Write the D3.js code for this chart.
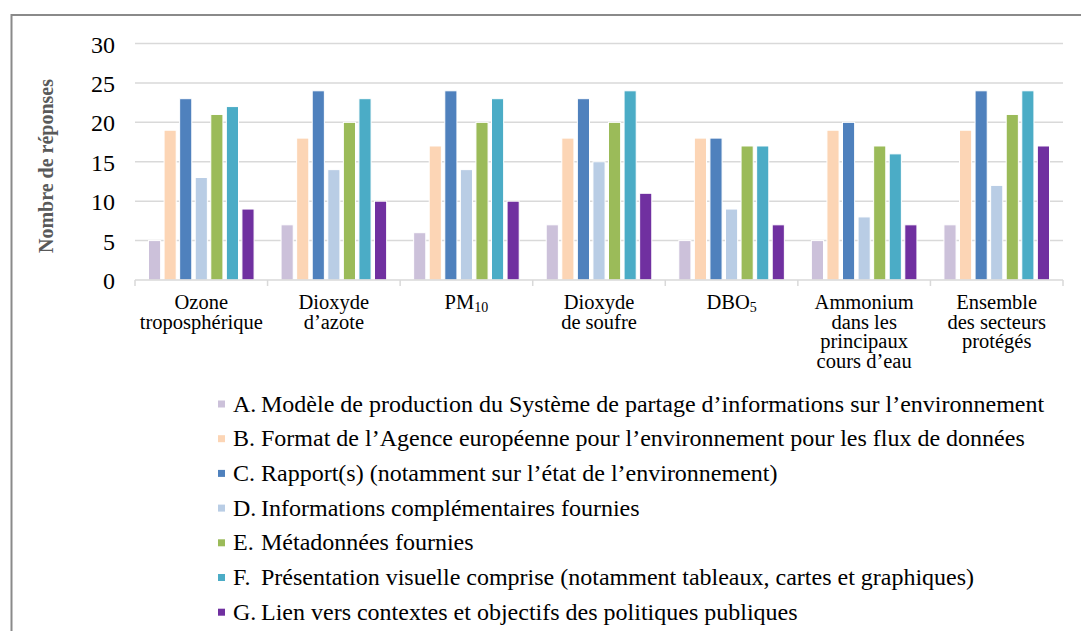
<!DOCTYPE html>
<html>
<head>
<meta charset="utf-8">
<script src="https://cdnjs.cloudflare.com/ajax/libs/d3/7.8.5/d3.min.js"></script>
<style>
  body { margin: 0; background: #fff; }
  text { font-family: "Liberation Serif", "Times New Roman", serif; }
</style>
</head>
<body>
<div id="chart"></div>
<script>
// categories (multi-line labels; second part of a line is a subscript)
var categories = [
  [["Ozone"], ["troposphérique"]],
  [["Dioxyde"], ["d’azote"]],
  [["PM", "10"]],
  [["Dioxyde"], ["de soufre"]],
  [["DBO", "5"]],
  [["Ammonium"], ["dans les"], ["principaux"], ["cours d’eau"]],
  [["Ensemble"], ["des secteurs"], ["protégés"]]
];

var seriesKeys = ["A.", "B.", "C.", "D.", "E.", "F.", "G."];
var seriesNames = [
  "Modèle de production du Système de partage d’informations sur l’environnement",
  "Format de l’Agence européenne pour l’environnement pour les flux de données",
  "Rapport(s) (notamment sur l’état de l’environnement)",
  "Informations complémentaires fournies",
  "Métadonnées fournies",
  "Présentation visuelle comprise (notamment tableaux, cartes et graphiques)",
  "Lien vers contextes et objectifs des politiques publiques"
];
var seriesColors = ["#ccc1da", "#fcd5b5", "#4f81bd", "#b9cde5", "#9bbb59", "#4bacc6", "#7030a0"];

// values per series, one per category
var valuesA = [5, 7, 6, 7, 5, 5, 7];
var valuesB = [19, 18, 17, 18, 18, 19, 19];
var valuesC = [23, 24, 24, 23, 18, 20, 24];
var valuesD = [13, 14, 14, 15, 9, 8, 12];
var valuesE = [21, 20, 20, 20, 17, 17, 21];
var valuesF = [22, 23, 23, 24, 17, 16, 24];
var valuesG = [9, 10, 10, 11, 7, 7, 17];
var seriesValues = [valuesA, valuesB, valuesC, valuesD, valuesE, valuesF, valuesG];

var yTicks = [0, 5, 10, 15, 20, 25, 30];

var svgWidth = 1081, svgHeight = 631;
var plot = { left: 135, right: 1063, top: 43.5, bottom: 280 };

var svg = d3.select("#chart").append("svg")
  .attr("width", svgWidth)
  .attr("height", svgHeight);

// outer frame
svg.append("rect")
  .attr("x", 11.5).attr("y", 15)
  .attr("width", 1100).attr("height", 700)
  .attr("fill", "none")
  .attr("stroke", "#8a8a8a")
  .attr("stroke-width", 2);

var x0 = d3.scaleBand()
  .domain(d3.range(categories.length))
  .range([plot.left, plot.right]);

var x1 = d3.scaleBand()
  .domain(d3.range(seriesKeys.length))
  .range([13.5, x0.bandwidth() - 13.5])
  .paddingInner(0.22);

var y = d3.scaleLinear()
  .domain([0, 30])
  .range([plot.bottom, plot.top]);

// gridlines
svg.append("g")
  .selectAll("line")
  .data(yTicks.filter(d => d > 0))
  .enter().append("line")
  .attr("x1", plot.left).attr("x2", plot.right)
  .attr("y1", d => y(d)).attr("y2", d => y(d))
  .attr("stroke", "#d9d9d9")
  .attr("stroke-width", 1.5);

// y tick labels
svg.append("g")
  .selectAll("text")
  .data(yTicks)
  .enter().append("text")
  .attr("x", 115)
  .attr("y", d => y(d) + 9)
  .attr("text-anchor", "end")
  .attr("font-size", "24px")
  .attr("fill", "#000")
  .text(d => d);

// bars
var groups = svg.append("g")
  .selectAll("g")
  .data(categories)
  .enter().append("g")
  .attr("transform", (d, i) => `translate(${x0(i)},0)`);

groups.selectAll("rect")
  .data((d, i) => seriesValues.map((vals, s) => ({ s: s, v: vals[i] })))
  .enter().append("rect")
  .attr("x", d => x1(d.s))
  .attr("width", x1.bandwidth())
  .attr("y", d => y(d.v))
  .attr("height", d => y(0) - y(d.v))
  .attr("fill", d => seriesColors[d.s])
  .attr("stroke", "#fff")
  .attr("stroke-width", 1);

// x axis line + category ticks
var axisG = svg.append("g")
  .attr("transform", `translate(0,${plot.bottom})`);
axisG.append("line")
  .attr("x1", plot.left).attr("x2", plot.right)
  .attr("stroke", "#d9d9d9").attr("stroke-width", 1.5);
axisG.selectAll("line.tick")
  .data(d3.range(categories.length + 1))
  .enter().append("line")
  .attr("class", "tick")
  .attr("x1", i => i < categories.length ? x0(i) : plot.right)
  .attr("x2", i => i < categories.length ? x0(i) : plot.right)
  .attr("y1", 0).attr("y2", 6)
  .attr("stroke", "#d9d9d9").attr("stroke-width", 1.5);

// category labels
categories.forEach(function(lines, i) {
  var t = svg.append("text")
    .attr("text-anchor", "middle")
    .attr("font-size", "20.5px")
    .attr("fill", "#000");
  lines.forEach(function(parts, j) {
    t.append("tspan")
      .attr("x", x0(i) + x0.bandwidth() / 2)
      .attr("y", 309 + j * 19.6)
      .text(parts[0]);
    if (parts[1]) {
      t.append("tspan")
        .attr("font-size", "14px")
        .attr("dy", "3")
        .text(parts[1]);
    }
  });
});

// y axis title
svg.append("text")
  .attr("transform", "translate(53,166) rotate(-90)")
  .attr("text-anchor", "middle")
  .attr("font-size", "20px")
  .attr("font-weight", "bold")
  .attr("fill", "#595959")
  .text("Nombre de réponses");

// legend
var legend = svg.append("g")
  .selectAll("g")
  .data(seriesKeys)
  .enter().append("g")
  .attr("transform", (d, i) => `translate(0,${411.5 + i * 34.7})`);

legend.append("rect")
  .attr("x", 218).attr("y", -11)
  .attr("width", 7).attr("height", 7)
  .attr("fill", (d, i) => seriesColors[i]);

legend.append("text")
  .attr("x", 233)
  .attr("font-size", "24px")
  .text(d => d);

legend.append("text")
  .attr("x", 261)
  .attr("font-size", "24px")
  .text((d, i) => seriesNames[i]);
</script>
</body>
</html>
